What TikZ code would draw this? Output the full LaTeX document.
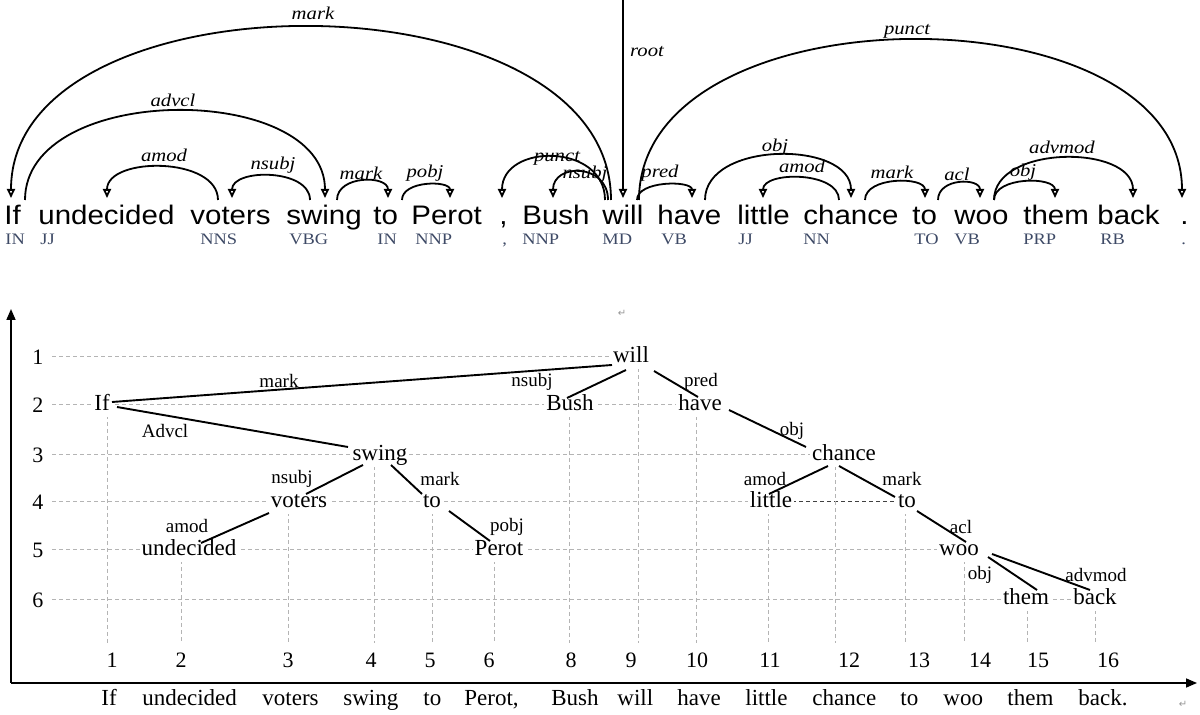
\documentclass[tikz,border=0pt]{standalone}
\usepackage{fontspec}
\setmainfont{Liberation Serif}
\newfontfamily\topsans[FakeStretch=1.1]{Liberation Sans}
\newfontfamily\posfont[FakeStretch=1.15]{Liberation Serif}
\newfontfamily\labfont[FakeStretch=1.15]{Liberation Serif}
\newfontfamily\symfont{DejaVu Sans}
\usetikzlibrary{arrows.meta,calc}
\definecolor{posc}{RGB}{62,74,102}
\definecolor{gridc}{RGB}{180,180,180}
\definecolor{retc}{RGB}{150,150,150}
\newcommand\deparc[7]{%
  \coordinate (#1t) at (#2,200);
  \coordinate (#1h) at (#3,198);
  \pgfmathsetmacro\arcctly{199-4/3*(199-#4)}
  \draw[deparrow] (#1t) .. controls (#2,\arcctly) and (#3,\arcctly) .. (#1h);
  \node[arclab] (#1l) at (#6,#7) {#5};
}
\begin{document}
\begin{tikzpicture}[x=0.5pt,y=-0.5pt,
  word/.style={font=\topsans\fontsize{13.4}{16}\selectfont, anchor=base west, inner sep=0},
  postag/.style={font=\posfont\fontsize{8}{10}\selectfont, text=posc, anchor=base west, inner sep=0},
  deparrow/.style={line width=0.9pt, -{Triangle[open,length=4.5pt,width=4pt]}},
  arclab/.style={font=\labfont\itshape\fontsize{9}{11}\selectfont, inner sep=0},
  tnode/.style={font=\fontsize{11.5}{14}\selectfont, fill=white, inner sep=1pt, text height=7.8pt, text depth=2.4pt},
  tedge/.style={line width=0.95pt},
  elab/.style={font=\fontsize{9.5}{11}\selectfont, inner sep=0},
  hgrid/.style={draw=gridc, line width=0.5pt, dash pattern=on 2pt off 1.5pt},
  darkgrid/.style={draw=black!75, line width=0.5pt, dash pattern=on 2pt off 1.5pt},
  axis/.style={line width=0.8pt, -{Triangle[length=5.5pt,width=4.5pt]}},
  num/.style={font=\fontsize{11}{13}\selectfont, inner sep=0},
  sent/.style={font=\fontsize{11.5}{14}\selectfont, anchor=base west, inner sep=0},
  ret/.style={font=\symfont\fontsize{5}{6}\selectfont, text=retc, inner sep=0}
]
\useasboundingbox (0,0) rectangle (1200,715);

% ---------------- top: dependency arcs ----------------
\node[word] (w1) at (4,225) {If};
\node[word] (w2) at (38,225) {undecided};
\node[word] (w3) at (190,225) {voters};
\node[word] (w4) at (286,225) {swing};
\node[word] (w5) at (373,225) {to};
\node[word] (w6) at (411,225) {Perot};
\node[word] (w7) at (499,225) {,};
\node[word] (w8) at (522,225) {Bush};
\node[word] (w9) at (602,225) {will};
\node[word] (w10) at (657,225) {have};
\node[word] (w11) at (737,225) {little};
\node[word] (w12) at (803,225) {chance};
\node[word] (w13) at (912,225) {to};
\node[word] (w14) at (954,225) {woo};
\node[word] (w15) at (1023,225) {them};
\node[word] (w16) at (1097,225) {back};
\node[word] (w17) at (1180,225) {.};

\node[postag] (p1) at (5,245) {IN};
\node[postag] (p2) at (40,245) {JJ};
\node[postag] (p3) at (200,245) {NNS};
\node[postag] (p4) at (289,245) {VBG};
\node[postag] (p5) at (377,245) {IN};
\node[postag] (p6) at (415,245) {NNP};
\node[postag] (p7) at (502,245) {,};
\node[postag] (p8) at (522,245) {NNP};
\node[postag] (p9) at (602,245) {MD};
\node[postag] (p10) at (661,245) {VB};
\node[postag] (p11) at (738,245) {JJ};
\node[postag] (p12) at (803,245) {NN};
\node[postag] (p13) at (914,245) {TO};
\node[postag] (p14) at (954,245) {VB};
\node[postag] (p15) at (1023,245) {PRP};
\node[postag] (p16) at (1100,245) {RB};
\node[postag] (p17) at (1181,245) {.};

\deparc{amark}{611}{11}{27}{mark}{313}{13}
\deparc{aadvcl}{25}{325}{111}{advcl}{173}{100}
\deparc{aamod}{218}{107}{167}{amod}{164}{155}
\deparc{ansubj}{310}{232}{176}{nsubj}{273}{165}
\deparc{amarkb}{337}{388}{181}{mark}{361}{173}
\deparc{apobj}{402}{450}{185}{pobj}{425}{173}
\deparc{apunct}{605}{502}{157}{punct}{557}{158}
\deparc{ansubjb}{608}{553}{172}{nsubj}{585}{174}
\deparc{apred}{637}{692}{185}{pred}{660}{173}
\deparc{apunctb}{639}{1182}{40}{punct}{907}{31}
\deparc{aobj}{705}{851}{155}{obj}{775}{147}
\deparc{aamodb}{839}{763}{178}{amod}{802}{166}
\deparc{amarkc}{865}{925}{182}{mark}{892}{172}
\deparc{aacl}{938}{980}{183}{acl}{957}{174}
\deparc{aobjb}{994}{1055}{182}{obj}{1023}{172}
\deparc{aadvmod}{994}{1133}{158}{advmod}{1062}{147}
\coordinate (rootTop) at (623,0);
\coordinate (rootTip) at (623,198);
\draw[deparrow] (rootTop) -- (rootTip);
\node[arclab] (rootl) at (647,52) {root};

% ---------------- bottom: tree on grid ----------------
\node[ret] (ret1) at (622,313) {↵};

% horizontal grid rows
\draw[hgrid] (52,357) -- (620,357);
\draw[hgrid] (52,405) -- (690,405);
\draw[hgrid] (52,455) -- (830,455);
\draw[hgrid] (52,502) -- (765,502);
\draw[darkgrid] (792,502) -- (898,502);
\draw[hgrid] (52,550) -- (950,550);
\draw[hgrid] (52,600) -- (1090,600);

% vertical grid lines
\foreach \vx/\vy in {107/415, 181/560, 288/512, 374/466, 432/512, 494/560, 569/416, 638/368, 696/416, 768/512, 835/466, 905/512, 964/560, 1027/610, 1095/610}
  \draw[hgrid] (\vx,\vy) -- (\vx,643);

% row labels
\foreach \r/\ry in {1/357, 2/405, 3/455, 4/502, 5/550, 6/600}
  \node[num] (row\r) at (38,\ry) {\r};

% column labels
\foreach \c/\cx in {1/112, 2/181, 3/288, 4/371, 5/430, 6/489, 8/571, 9/631, 10/697, 11/770, 12/849, 13/919, 14/980, 15/1038, 16/1108}
  \node[num] (col\c) at (\cx,660) {\c};

% axes
\coordinate (origin) at (11,683);
\coordinate (ytop) at (11,309);
\coordinate (xend) at (1197,683);
\draw[axis] (origin) -- (ytop);
\draw[axis] (origin) -- (xend);

% tree nodes
\node[tnode] (will) at (631,357) {will};
\node[tnode] (If) at (102,405) {If};
\node[tnode] (Bush) at (570,405) {Bush};
\node[tnode] (have) at (700,405) {have};
\node[tnode] (swing) at (380,455) {swing};
\node[tnode] (chance) at (844,455) {chance};
\node[tnode] (voters) at (299,502) {voters};
\node[tnode] (toA) at (432,502) {to};
\node[tnode] (little) at (771,502) {little};
\node[tnode] (toB) at (907,502) {to};
\node[tnode] (undecided) at (189,550) {undecided};
\node[tnode] (Perot) at (499,550) {Perot};
\node[tnode] (woo) at (959,550) {woo};
\node[tnode] (them) at (1026,599) {them};
\node[tnode] (back) at (1095,599) {back};

% tree edges
\draw[tedge] ($(If)+(10,-3)$) -- ($(will)+(-19,8)$);
\draw[tedge] ($(If)+(15,2)$) -- ($(swing)+(-32,-8)$);
\draw[tedge] ($(will)+(-5,13)$) -- ($(Bush)+(-3,-7)$);
\draw[tedge] ($(will)+(23,14)$) -- ($(have)+(-2,-8)$);
\draw[tedge] ($(have)+(29,5)$) -- ($(chance)+(-38,-8)$);
\draw[tedge] ($(swing)+(-17,10)$) -- ($(voters)+(7,-8)$);
\draw[tedge] ($(swing)+(11,10)$) -- ($(toA)+(-10,-8)$);
\draw[tedge] ($(chance)+(-16,11)$) -- ($(little)+(-2,-8)$);
\draw[tedge] ($(chance)+(-5,11)$) -- ($(toB)+(-12,-5)$);
\draw[tedge] ($(voters)+(-30,11)$) -- ($(undecided)+(12,-7)$);
\draw[tedge] ($(toA)+(17,9)$) -- ($(Perot)+(-9,-9)$);
\draw[tedge] ($(toB)+(10,9)$) -- ($(woo)+(7,-8)$);
\draw[tedge] ($(woo)+(29,7)$) -- ($(them)+(11,-9)$);
\draw[tedge] ($(woo)+(33,4)$) -- ($(back)+(-5,-9)$);

% edge labels
\node[elab] (l1) at (279,381) {mark};
\node[elab] (l2) at (165,431) {Advcl};
\node[elab] (l3) at (532,382) {nsubj};
\node[elab] (l4) at (701,382) {pred};
\node[elab] (l5) at (792,431) {obj};
\node[elab] (l6) at (292,479) {nsubj};
\node[elab] (l7) at (440,479) {mark};
\node[elab] (l8) at (765,479) {amod};
\node[elab] (l9) at (902,479) {mark};
\node[elab] (l10) at (187,526) {amod};
\node[elab] (l11) at (507,527) {pobj};
\node[elab] (l12) at (961,527) {acl};
\node[elab] (l13) at (980,575) {obj};
\node[elab] (l14) at (1096,575) {advmod};

% sentence under the axis
\node[sent] (s1) at (101,706) {If};
\node[sent] (s2) at (142,706) {undecided};
\node[sent] (s3) at (262,706) {voters};
\node[sent] (s4) at (343,706) {swing};
\node[sent] (s5) at (423,706) {to};
\node[sent] (s6) at (464,706) {Perot,};
\node[sent] (s7) at (551,706) {Bush};
\node[sent] (s8) at (617,706) {will};
\node[sent] (s9) at (677,706) {have};
\node[sent] (s10) at (745,706) {little};
\node[sent] (s11) at (812,706) {chance};
\node[sent] (s12) at (900,706) {to};
\node[sent] (s13) at (943,706) {woo};
\node[sent] (s14) at (1007,706) {them};
\node[sent] (s15) at (1078,706) {back.};
\node[ret] (ret2) at (1183,704) {↵};
\end{tikzpicture}
\end{document}
